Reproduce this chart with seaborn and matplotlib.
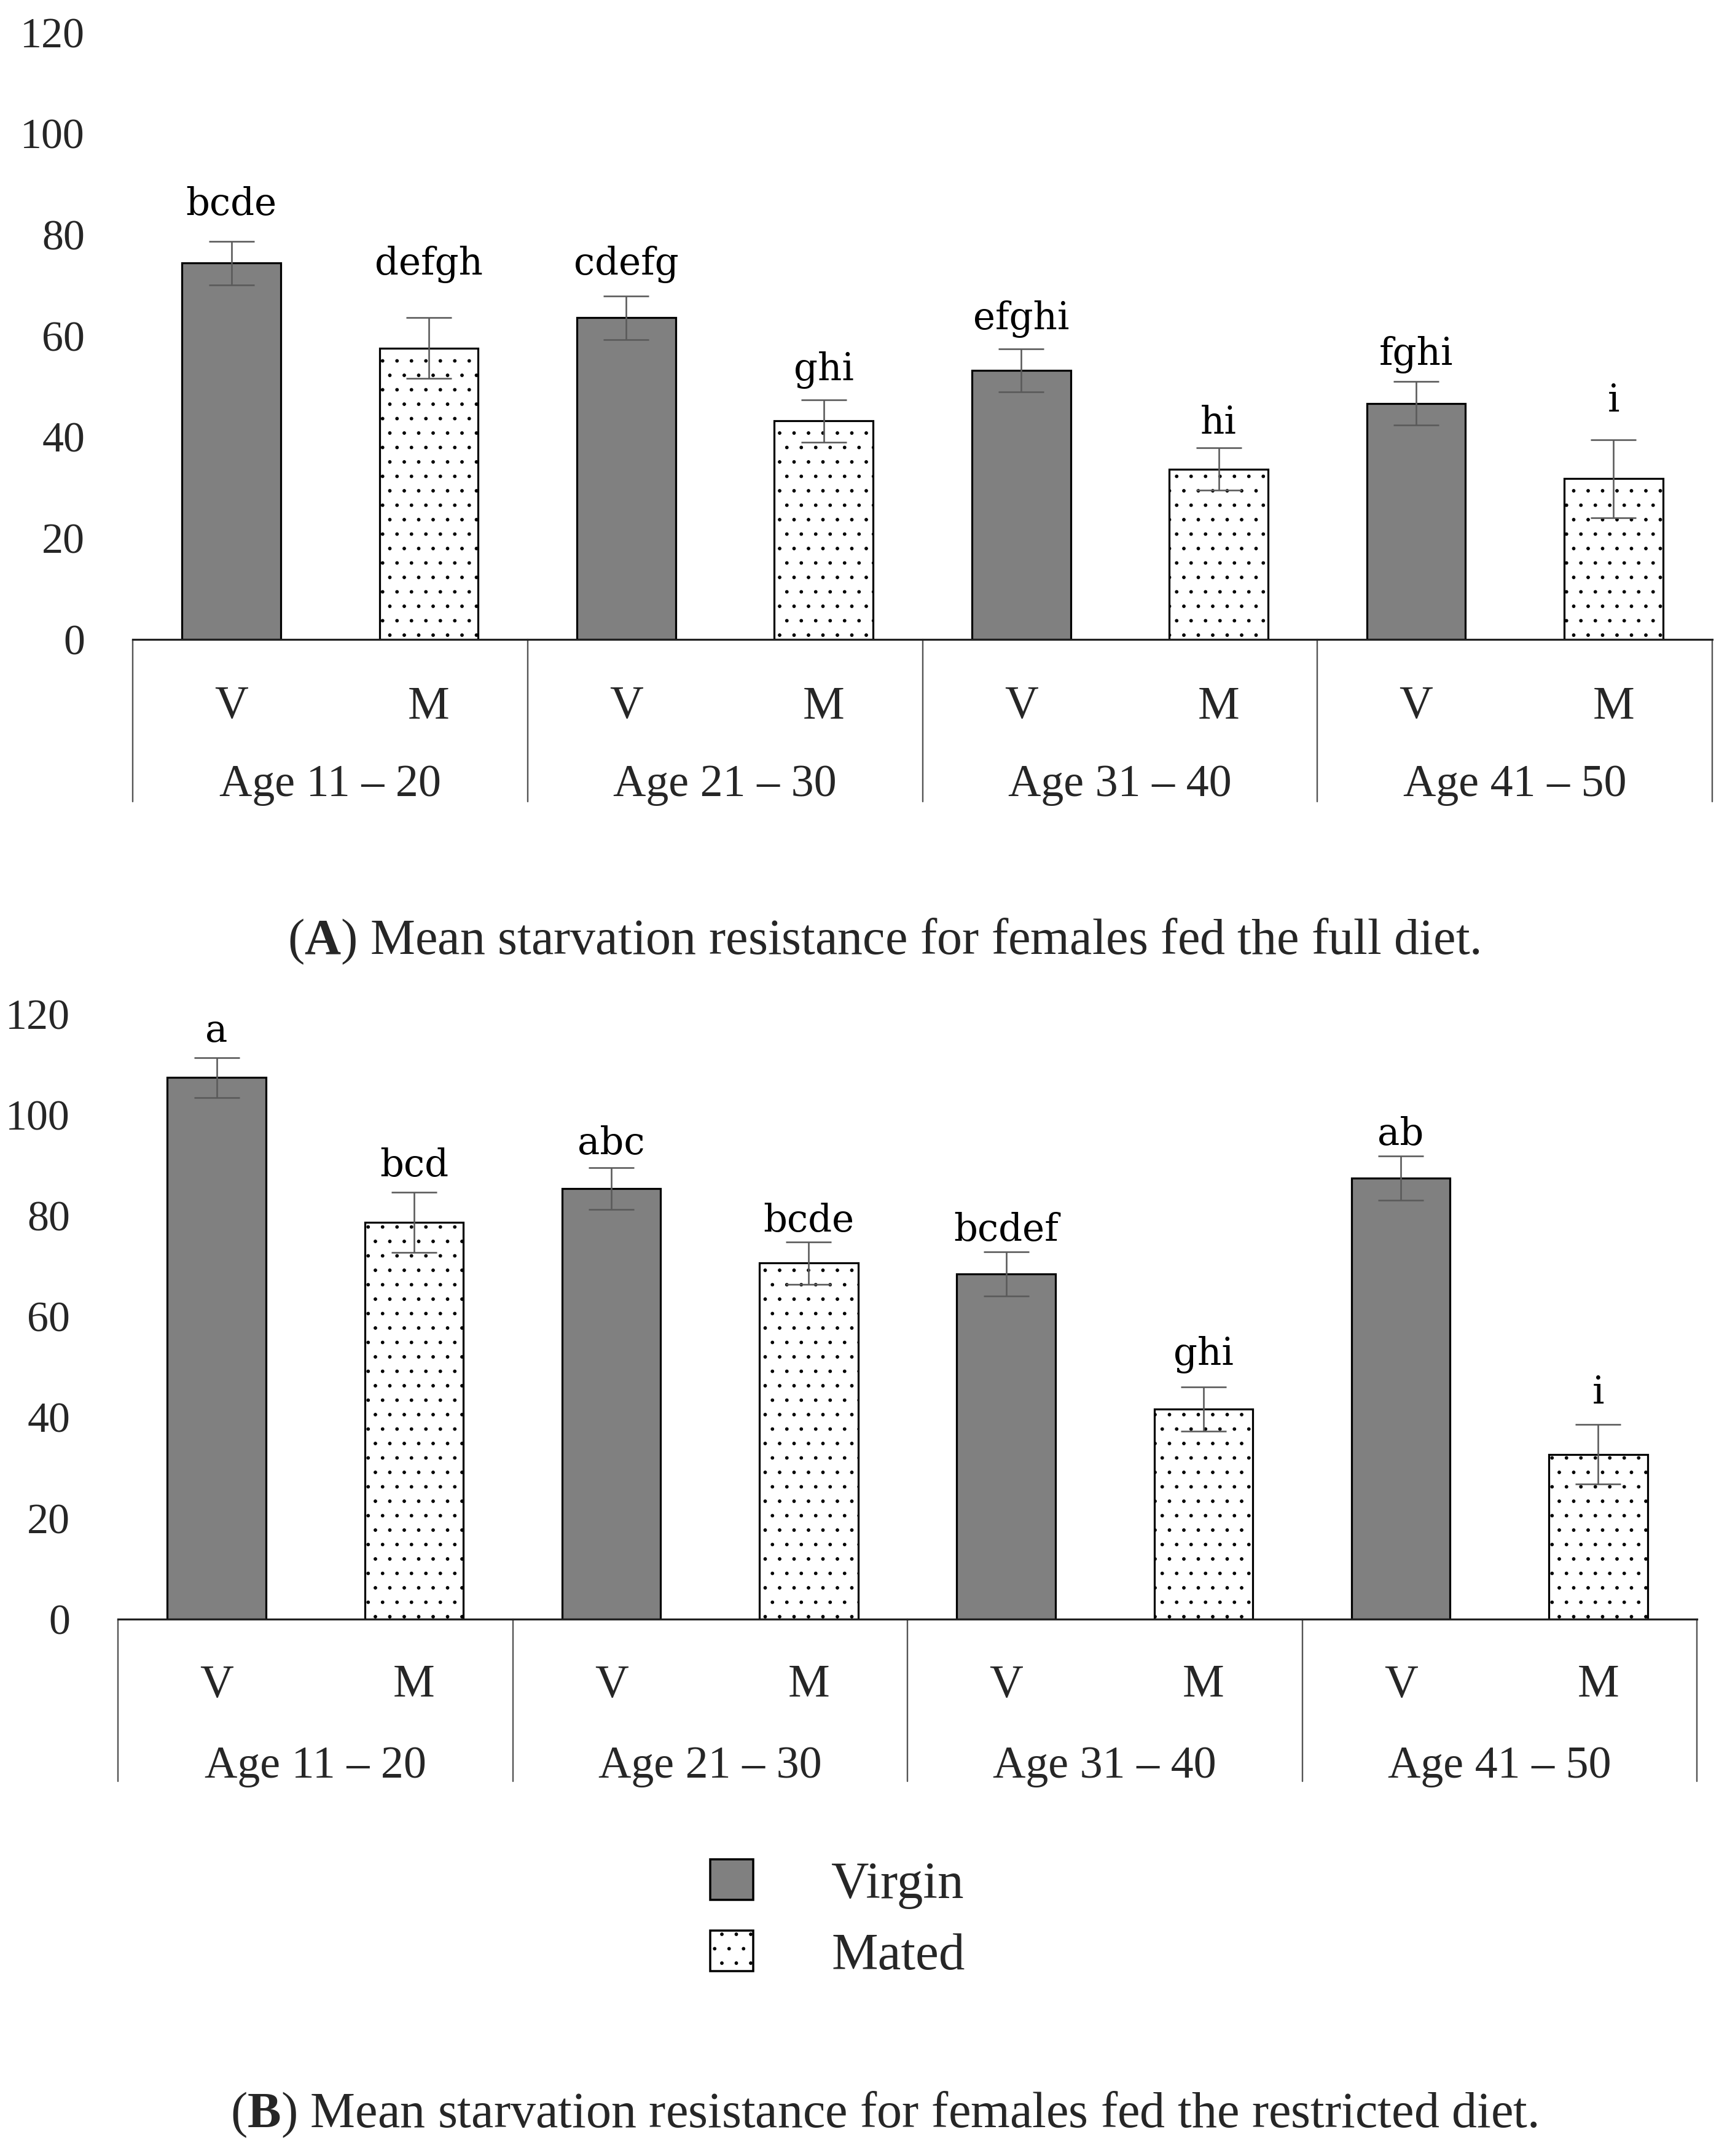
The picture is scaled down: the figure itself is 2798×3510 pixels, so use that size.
import matplotlib
matplotlib.use("Agg")
import matplotlib.pyplot as plt
import seaborn as sns
import pandas as pd
from matplotlib.patches import Patch

# ---------------- data ----------------
age_groups = ["Age 11 – 20", "Age 21 – 30", "Age 31 – 40", "Age 41 – 50"]
statuses = ["Virgin", "Mated"]
short_labels = ["V", "M"]
y_ticks = [0, 20, 40, 60, 80, 100, 120]

a_means = [74.4, 57.6, 63.6, 43.2, 53.2, 33.7, 46.7, 31.8]
a_errs = [4.3, 6.0, 4.3, 4.2, 4.3, 4.2, 4.3, 7.7]
a_letters = ["bcde", "defgh", "cdefg", "ghi", "efghi", "hi", "fghi", "i"]
a_letter_y = [83.9, 72.2, 72.2, 51.3, 61.3, 40.7, 54.3, 45.0]

b_means = [107.4, 78.7, 85.4, 70.6, 68.5, 41.7, 87.5, 32.7]
b_errs = [4.0, 6.0, 4.2, 4.2, 4.4, 4.4, 4.4, 5.9]
b_letters = ["a", "bcd", "abc", "bcde", "bcdef", "ghi", "ab", "i"]
b_letter_y = [114.5, 87.8, 92.2, 76.9, 75.0, 50.4, 94.1, 42.8]

caption_a = r"($\mathbf{A}$) Mean starvation resistance for females fed the full diet."
caption_b = r"($\mathbf{B}$) Mean starvation resistance for females fed the restricted diet."

# ---------------- style ----------------
DPI = 141
W, H = 2798, 3510


def pt(px):
    return px * 72.0 / DPI


sns.set_style("white")
plt.rcParams["font.family"] = ["Liberation Serif", "DejaVu Serif"]
plt.rcParams["mathtext.fontset"] = "custom"
plt.rcParams["mathtext.rm"] = "Liberation Serif"
plt.rcParams["mathtext.bf"] = "Liberation Serif:bold"
plt.rcParams["hatch.linewidth"] = pt(1.0)

virgin_color = "#808080"
fig = plt.figure(figsize=(W / DPI, H / DPI), dpi=DPI)


def draw(ax, means, errs, letters, letter_y, vm_px, age_px, sep_px, height_px):
    bars = [f"{g}|{s}" for g in age_groups for s in short_labels]
    df = pd.DataFrame({"bar": bars, "Status": statuses * len(age_groups), "value": means})
    sns.barplot(data=df, x="bar", y="value", hue="Status", order=bars,
                hue_order=statuses, palette={"Virgin": virgin_color, "Mated": "white"},
                dodge=False, width=0.5, edgecolor="black", linewidth=pt(3.2),
                errorbar=None, legend=False, saturation=1, ax=ax)
    for p in ax.patches:
        fc = p.get_facecolor()
        if fc[0] > 0.9:
            p.set_hatch(".")
    xs = list(range(len(means)))
    ax.errorbar(xs, means, yerr=errs, fmt="none", ecolor="#5a5a5a",
                elinewidth=pt(2.6), capsize=pt(37), capthick=pt(2.6), zorder=5)
    for x, t, ly in zip(xs, letters, letter_y):
        ax.text(x, ly, t, ha="center", va="baseline", fontsize=pt(61),
                family=["DejaVu Serif"], color="black")
    ax.set_xlim(-0.5, len(means) - 0.5)
    ax.set_ylim(0, 120)
    ax.set_yticks(y_ticks)
    ax.set_yticklabels([str(v) for v in y_ticks])
    ax.set_xticks([])
    ax.set_xlabel("")
    ax.set_ylabel("")
    ax.tick_params(axis="y", length=0, pad=pt(78), labelsize=pt(70))
    for s in ["left", "top", "right"]:
        ax.spines[s].set_visible(False)
    ax.spines["bottom"].set_linewidth(pt(3.2))
    ax.spines["bottom"].set_color("#222222")
    tr = ax.get_xaxis_transform()
    for x, lab in zip(xs, short_labels * len(age_groups)):
        ax.text(x, -vm_px / height_px, lab, transform=tr, ha="center", va="center",
                fontsize=pt(76))
    for i, g in enumerate(age_groups):
        ax.text(2 * i + 0.5, -age_px / height_px, g, transform=tr, ha="center",
                va="center", fontsize=pt(74))
    for xb in [-0.5, 1.5, 3.5, 5.5, 7.5]:
        ax.plot([xb, xb], [0, -sep_px / height_px], transform=tr, color="#555555",
                lw=pt(2.4), clip_on=False)


# panel A: axis line at y=1041 px, value 120 at y=53 px
axA = fig.add_axes([216 / W, 1 - 1041 / H, (2787 - 216) / W, (1041 - 53) / H])
draw(axA, a_means, a_errs, a_letters, a_letter_y, 110, 237, 264, 988)

# panel B: axis line at y=2636 px, value 120 at y=1651 px
axB = fig.add_axes([192 / W, 1 - 2636 / H, (2762 - 192) / W, (2636 - 1651) / H])
draw(axB, b_means, b_errs, b_letters, b_letter_y, 108, 240, 264, 985)

fig.text(1439 / W, 1 - 1533 / H, caption_a, ha="center", va="center", fontsize=pt(82))
fig.text(1439 / W, 1 - 3443 / H, caption_b, ha="center", va="center", fontsize=pt(82))

handles = [Patch(facecolor=virgin_color, edgecolor="black", linewidth=pt(3.5)),
           Patch(facecolor="white", edgecolor="black", linewidth=pt(3.5), hatch=".")]
fig.legend(handles, statuses, loc="upper left",
           bbox_to_anchor=(1156 / W, 1 - 3027 / H), frameon=False, fontsize=pt(85),
           handlelength=0.82, handleheight=0.82, handletextpad=1.5,
           labelspacing=0.42, borderpad=0, borderaxespad=0)

fig.savefig("out.png", dpi=DPI, facecolor="white")
